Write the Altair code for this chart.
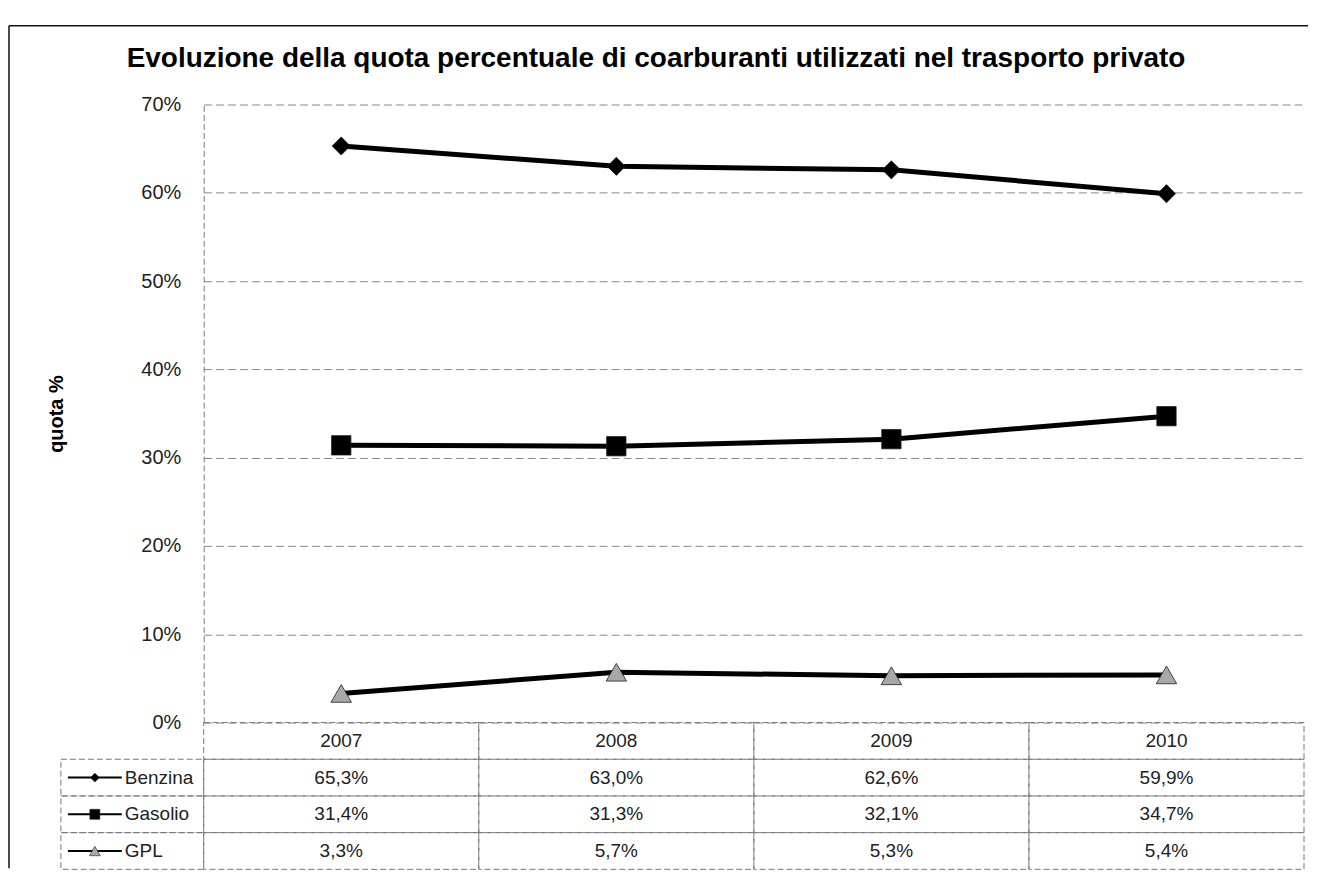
import altair as alt
import pandas as pd

# ---- data ----
years = ["2007", "2008", "2009", "2010"]
series = ["Benzina", "Gasolio", "GPL"]
benzina = [65.3, 63.0, 62.6, 59.9]
gasolio = [31.4, 31.3, 32.1, 34.7]
gpl = [3.3, 5.7, 5.3, 5.4]
y_ticks = [0, 10, 20, 30, 40, 50, 60, 70]
title_text = "Evoluzione della quota percentuale di coarburanti utilizzati nel trasporto privato"
y_title = "quota %"

# ---- layout ----
W, H = 1102, 619
FONT = "Liberation Sans"
rows = ["header"] + series
ROW_RANGE = [H, H + 147]

values = {"Benzina": benzina, "Gasolio": gasolio, "GPL": gpl}
recs = []
for s in series:
    for yr, v in zip(years, values[s]):
        recs.append({"year": yr, "series": s, "row": s, "value": v,
                     "label": f"{v:.1f}%".replace(".", ",")})
df = pd.DataFrame(recs)
header_df = pd.DataFrame({"year": years, "row": ["header"] * len(years), "label": years})
cells_df = pd.DataFrame([{"year": yr, "row": r} for r in rows for yr in years])
legend_df = pd.DataFrame({"series": series, "row": series})
one = pd.DataFrame({"t": [title_text]})

x_scale = alt.Scale(type="band", domain=years, paddingInner=0, paddingOuter=0)
x_band = alt.X("year:N", scale=x_scale, axis=None)
x_mid = alt.X("year:N", scale=x_scale, axis=None, bandPosition=0.5)

row_scale = alt.Scale(type="band", domain=rows, range=ROW_RANGE, paddingInner=0, paddingOuter=0)
y_row_band = alt.Y("row:N", scale=row_scale, axis=None)
y_row_mid = alt.Y("row:N", scale=row_scale, axis=None, bandPosition=0.5)

y_axis = alt.Axis(values=y_ticks, labelExpr="datum.value + '%'", title=y_title,
                  titleFont=FONT, titleFontSize=20, titleFontWeight="bold", titleColor="#000",
                  titlePadding=74, labelFont=FONT, labelFontSize=20, labelColor="#222",
                  labelPadding=23, ticks=False, tickSize=0, domain=True, domainColor="#777",
                  domainDash=[6, 3], grid=True, gridColor="#888", gridDash=[8, 4], gridWidth=1)
y_val_axis = alt.Y("value:Q", scale=alt.Scale(domain=[0, 70]), axis=y_axis)
y_val = alt.Y("value:Q", scale=alt.Scale(domain=[0, 70]), axis=None)

shape_enc = alt.Shape("series:N", scale=alt.Scale(domain=series, range=["diamond", "square", "triangle-up"]), legend=None)
fill_enc = alt.Color("series:N", scale=alt.Scale(domain=series, range=["#000000", "#000000", "#a8a8a8"]), legend=None)

base = alt.Chart(df)

lines = base.mark_line(color="#000").encode(
    x=x_mid, y=y_val_axis, detail="series:N",
    strokeWidth=alt.StrokeWidth("series:N", scale=alt.Scale(domain=series, range=[5, 5, 4]), legend=None),
)
points = base.mark_point(filled=True, opacity=1, stroke="#222", strokeWidth=0.8).encode(
    x=x_mid, y=y_val, shape=shape_enc, color=fill_enc,
    size=alt.Size("series:N", scale=alt.Scale(domain=series, range=[330, 420, 180]), legend=None),
)

cells = alt.Chart(cells_df).mark_rect(fillOpacity=0, stroke="#777", strokeWidth=1, strokeDash=[6, 3]).encode(
    x=x_band, y=y_row_band)
legend_cells = alt.Chart(legend_df).mark_rect(fillOpacity=0, stroke="#777", strokeWidth=1, strokeDash=[6, 3]).encode(
    x=alt.value(-143), x2=alt.value(0), y=y_row_band)

header_text = alt.Chart(header_df).mark_text(font=FONT, fontSize=19, color="#222").encode(
    x=x_mid, y=y_row_mid, text="label:N")
value_text = base.mark_text(font=FONT, fontSize=19, color="#222").encode(
    x=x_mid, y=y_row_mid, text="label:N")

legend_lines = alt.Chart(legend_df).mark_rule(color="#000", strokeWidth=2).encode(
    x=alt.value(-136), x2=alt.value(-82), y=y_row_mid)
legend_pts = alt.Chart(legend_df).mark_point(filled=True, opacity=1, stroke="#222", strokeWidth=0.6).encode(
    x=alt.value(-109), y=y_row_mid, shape=shape_enc, color=fill_enc,
    size=alt.Size("series:N", scale=alt.Scale(domain=series, range=[80, 120, 60]), legend=None))
legend_text = alt.Chart(legend_df).mark_text(font=FONT, fontSize=19, color="#222", align="left").encode(
    x=alt.value(-79), y=y_row_mid, text="series:N")

title = alt.Chart(one).mark_text(font=FONT, fontSize=28, fontWeight="bold", color="#000",
                                 align="center", baseline="alphabetic").encode(
    x=alt.value(453), y=alt.value(-38), text="t:N")
frame_top = alt.Chart(one).mark_rule(color="#111", strokeWidth=1.5).encode(
    x=alt.value(-195), x2=alt.value(1106), y=alt.value(-79))
frame_left = alt.Chart(one).mark_rule(color="#111", strokeWidth=1.5).encode(
    x=alt.value(-195), y=alt.value(-79), y2=alt.value(765))

chart = alt.layer(
    cells, legend_cells, lines, points, header_text, value_text,
    legend_lines, legend_pts, legend_text, title, frame_top, frame_left,
).resolve_scale(
    y="independent", size="independent"
).properties(
    width=W, height=H,
    padding={"left": 0, "top": 16, "right": 0, "bottom": 0},
).configure_view(stroke=None)

chart.save("out.html", embed_options={"renderer": "svg", "actions": False})
